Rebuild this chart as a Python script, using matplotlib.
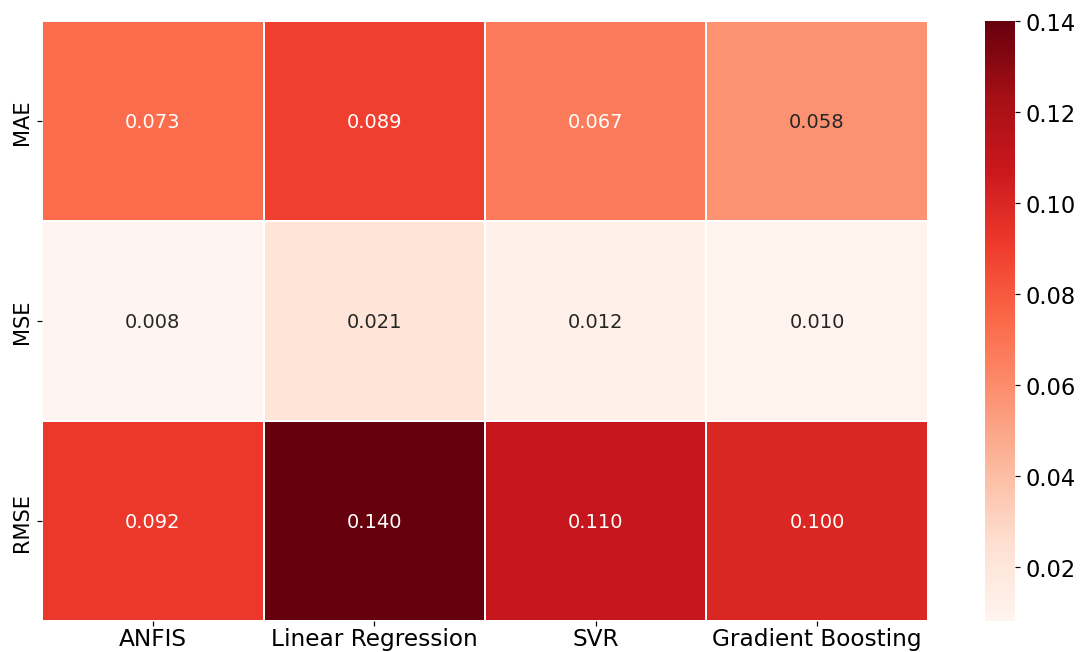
import matplotlib
matplotlib.use("Agg")
import matplotlib.pyplot as plt
import seaborn as sns
import numpy as np
import pandas as pd

models = ["ANFIS", "Linear Regression", "SVR", "Gradient Boosting"]
metrics = ["MAE", "MSE", "RMSE"]
mae = [0.073, 0.089, 0.067, 0.058]
mse = [0.008, 0.021, 0.012, 0.010]
rmse = [0.092, 0.140, 0.110, 0.100]

scores = pd.DataFrame([mae, mse, rmse], index=metrics, columns=models)

fig = plt.figure(figsize=(10, 6.046), dpi=108)
ax = fig.add_axes([0.039, 0.047, 0.820, 0.919])
cax = fig.add_axes([0.912, 0.047, 0.028, 0.919])

sns.heatmap(scores, annot=True, fmt=".3f", cmap="Reds", linewidths=1,
            linecolor="white", ax=ax, cbar_ax=cax,
            annot_kws={"fontsize": 13})
ax.tick_params(axis="x", labelsize=15.5, length=3, pad=0.5)
ax.tick_params(axis="y", labelsize=14)
cax.tick_params(labelsize=15)

fig.savefig("out.png", dpi=108)
